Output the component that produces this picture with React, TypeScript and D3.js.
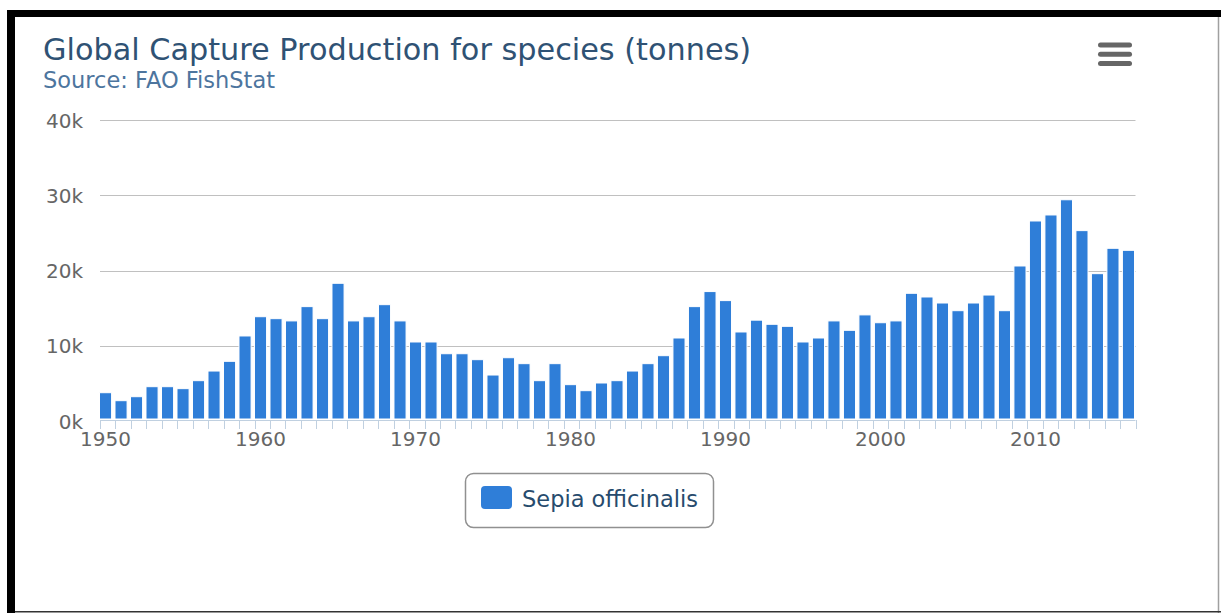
import { useEffect, useRef } from 'react';
import * as d3 from 'd3';

// Sepia officinalis, global capture (tonnes), 1950-2016
const years: number[] = d3.range(1950, 2017);
const capture: number[] = [
  3760, 2700, 3230, 4560, 4560, 4300, 5360, 6640, 7930, 11300,
  13860, 13600, 13300, 15200, 13600, 18300, 13300, 13860, 15460, 13300,
  10500, 10500, 8940, 8940, 8150, 6110, 8410, 7620, 5360, 7620,
  4830, 4030, 5050, 5360, 6640, 7620, 8680, 11030, 15200, 17200,
  16000, 11830, 13400, 12850, 12580, 10500, 11030, 13300, 12050, 14100,
  13060, 13300, 16970, 16480, 15680, 14660, 15680, 16740, 14660, 20600,
  26580, 27380, 29400, 25300, 19580, 22950, 22680,
];
const yTicks: number[] = [0, 10000, 20000, 30000, 40000];
const yearLabels: number[] = [1950, 1960, 1970, 1980, 1990, 2000, 2010];

const seriesName = 'Sepia officinalis';
const titleText = 'Global Capture Production for species (tonnes)';
const subtitleText = 'Source: FAO FishStat';

const W = 1221;
const H = 613;
const FONT = '"DejaVu Sans", Verdana, sans-serif';

export default function App() {
  const svgRef = useRef<SVGSVGElement>(null);

  useEffect(() => {
    if (!svgRef.current) return;
    const svg = d3.select(svgRef.current);
    svg.selectAll('*').remove();

    const plot = { left: 100, right: 1135.5, top: 120, bottom: 421 };

    // scales
    const y = d3.scaleLinear().domain([0, 40000]).range([plot.bottom, plot.top]);
    const xBar = d3.scaleBand<number>()
      .domain(years)
      .range([99.5, 1134.5])
      .paddingInner(0.22)
      .paddingOuter(0);
    const xTick = d3.scaleLinear().domain([0, years.length]).range([plot.left, plot.right]);

    // background + frame
    svg.append('rect').attr('width', W).attr('height', H).attr('fill', '#fff');
    svg.append('rect').attr('x', 7).attr('y', 10).attr('width', W - 7).attr('height', 7).attr('fill', '#000');
    svg.append('rect').attr('x', 7).attr('y', 10).attr('width', 8).attr('height', H - 10).attr('fill', '#000');
    svg.append('line')
      .attr('x1', 1218.5).attr('x2', 1218.5).attr('y1', 17).attr('y2', H)
      .attr('stroke', '#a0a0a0').attr('stroke-width', 1.5);
    svg.append('line')
      .attr('x1', 15).attr('x2', W).attr('y1', 611.8).attr('y2', 611.8)
      .attr('stroke', '#333').attr('stroke-width', 1.4);

    // title
    svg.append('text')
      .attr('x', 43).attr('y', 60)
      .attr('font-family', FONT).attr('font-size', 30.3)
      .attr('fill', '#2f5274')
      .text(titleText);
    svg.append('text')
      .attr('x', 43).attr('y', 88)
      .attr('font-family', FONT).attr('font-size', 22.5)
      .attr('fill', '#4d759e')
      .text(subtitleText);

    // menu button
    svg.append('g')
      .selectAll('rect')
      .data([0, 1, 2])
      .enter().append('rect')
      .attr('x', 1098).attr('width', 34)
      .attr('y', d => 42.5 + d * 9.3).attr('height', 5)
      .attr('rx', 2.5)
      .attr('fill', '#666');

    // gridlines
    svg.append('g')
      .selectAll('line')
      .data(yTicks.filter(t => t > 0))
      .enter().append('line')
      .attr('x1', plot.left).attr('x2', plot.right)
      .attr('y1', d => Math.round(y(d)) + 0.5).attr('y2', d => Math.round(y(d)) + 0.5)
      .attr('stroke', '#c0c0c0').attr('stroke-width', 1);

    // y labels
    svg.append('g')
      .selectAll('text')
      .data(yTicks)
      .enter().append('text')
      .attr('x', 83).attr('y', d => y(d) + 7.5)
      .attr('text-anchor', 'end')
      .attr('font-family', FONT).attr('font-size', 20)
      .attr('fill', '#666')
      .text(d => `${d / 1000}k`);

    // bars
    svg.append('g')
      .selectAll('rect')
      .data(years)
      .enter().append('rect')
      .attr('x', d => xBar(d) || 0)
      .attr('width', xBar.bandwidth())
      .attr('y', (d, i) => y(capture[i]))
      .attr('height', (d, i) => 419 - y(capture[i]))
      .attr('fill', '#2f7ed8')
      .attr('stroke', '#fff')
      .attr('stroke-width', 1);

    // x axis line + ticks
    svg.append('line')
      .attr('x1', plot.left).attr('x2', plot.right)
      .attr('y1', 420.5).attr('y2', 420.5)
      .attr('stroke', '#c0d0e0').attr('stroke-width', 1);
    svg.append('g')
      .selectAll('line')
      .data(d3.range(0, years.length + 1))
      .enter().append('line')
      .attr('x1', d => Math.round(xTick(d)) + 0.5).attr('x2', d => Math.round(xTick(d)) + 0.5)
      .attr('y1', 420).attr('y2', 429)
      .attr('stroke', '#c0d0e0').attr('stroke-width', 1);

    // x labels
    svg.append('g')
      .selectAll('text')
      .data(yearLabels)
      .enter().append('text')
      .attr('x', d => (xBar(d) || 0) + xBar.bandwidth() / 2)
      .attr('y', 446)
      .attr('text-anchor', 'middle')
      .attr('font-family', FONT).attr('font-size', 20)
      .attr('fill', '#666')
      .text(d => String(d));

    // legend
    const legend = svg.append('g');
    legend.append('rect')
      .attr('x', 465.5).attr('y', 473.5).attr('width', 248).attr('height', 54)
      .attr('rx', 8)
      .attr('fill', '#fff')
      .attr('stroke', '#909090').attr('stroke-width', 1.5);
    legend.append('rect')
      .attr('x', 481).attr('y', 486).attr('width', 31).attr('height', 23)
      .attr('rx', 4)
      .attr('fill', '#2f7ed8');
    legend.append('text')
      .attr('x', 522).attr('y', 507)
      .attr('font-family', FONT).attr('font-size', 22.5)
      .attr('fill', '#274b6d')
      .text(seriesName);
  }, []);

  return (
    <svg
      ref={svgRef}
      width={W}
      height={H}
      style={{ position: 'absolute', left: 0, top: 0, display: 'block' }}
    />
  );
}
